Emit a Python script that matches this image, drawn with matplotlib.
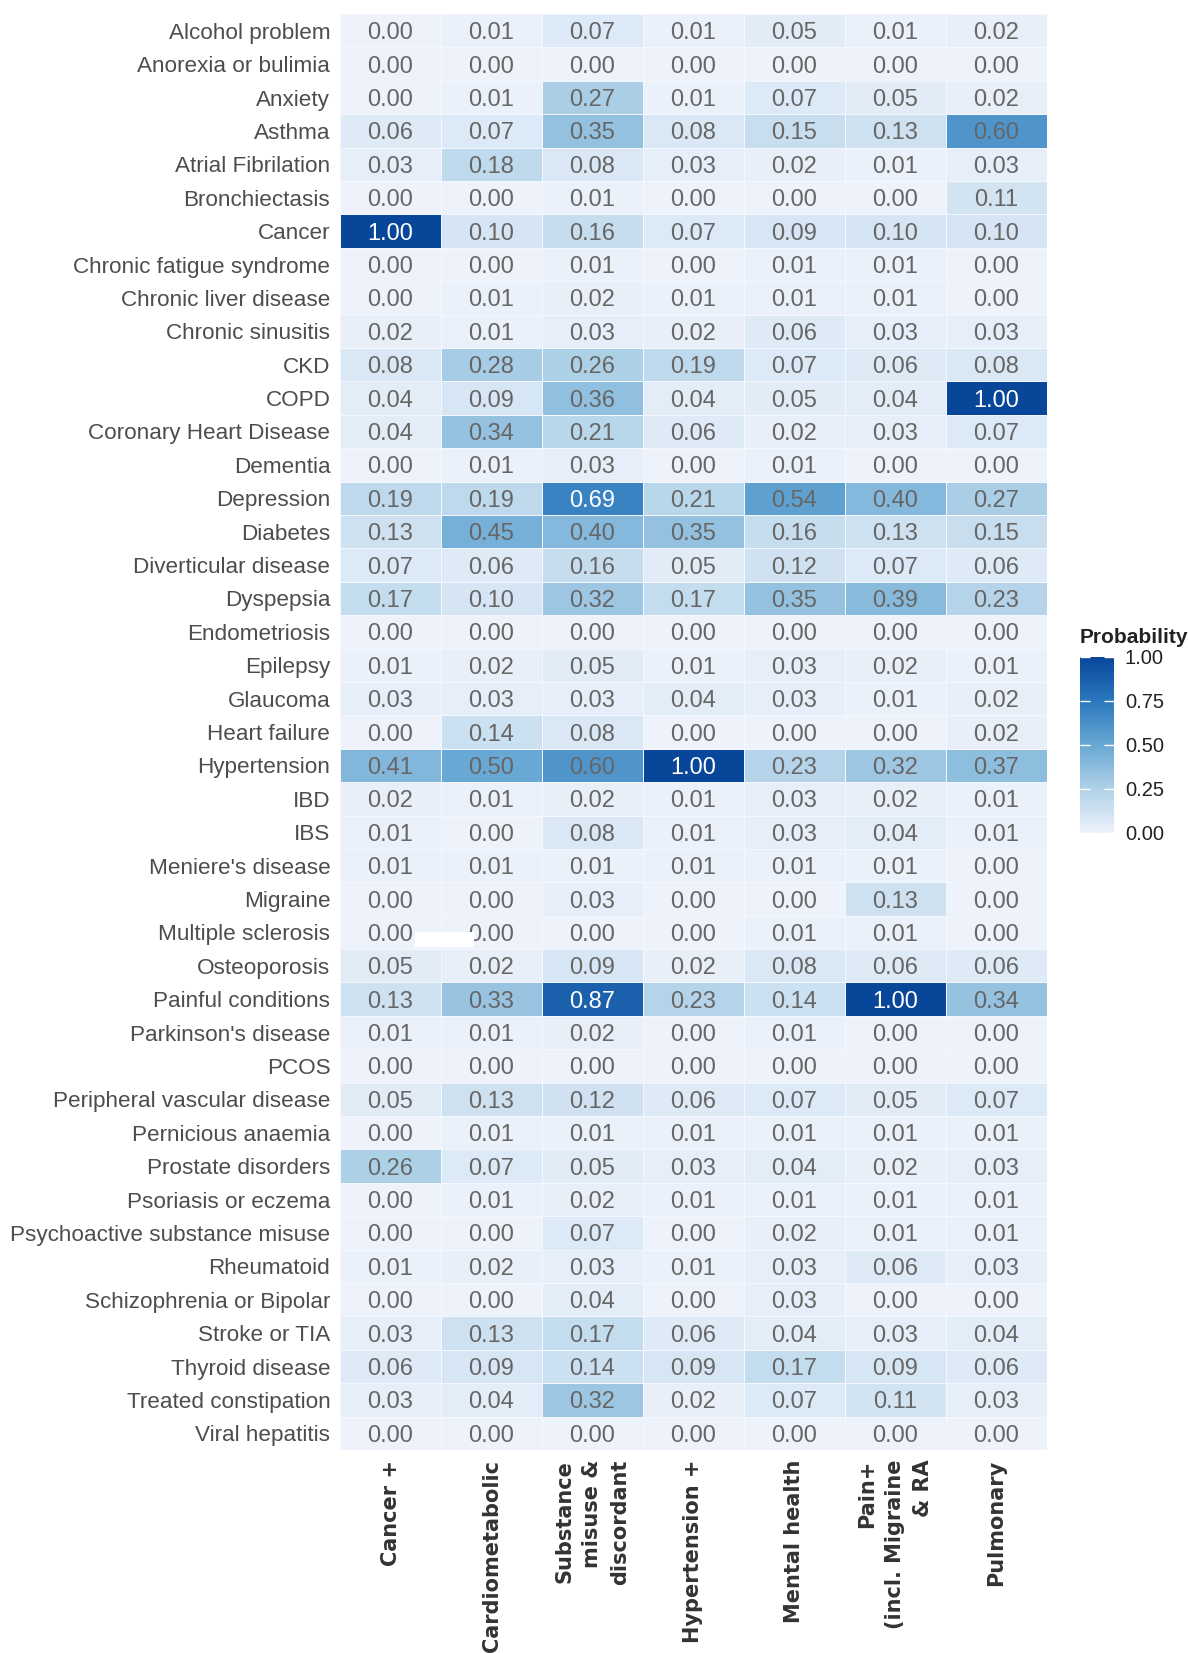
import numpy as np
import matplotlib
matplotlib.use("Agg")
import matplotlib.pyplot as plt
import matplotlib.patches as patches
from matplotlib.colors import LinearSegmentedColormap

conditions = [
    "Alcohol problem", "Anorexia or bulimia", "Anxiety", "Asthma",
    "Atrial Fibrilation", "Bronchiectasis", "Cancer", "Chronic fatigue syndrome",
    "Chronic liver disease", "Chronic sinusitis", "CKD", "COPD",
    "Coronary Heart Disease", "Dementia", "Depression", "Diabetes",
    "Diverticular disease", "Dyspepsia", "Endometriosis", "Epilepsy",
    "Glaucoma", "Heart failure", "Hypertension", "IBD", "IBS",
    "Meniere's disease", "Migraine", "Multiple sclerosis", "Osteoporosis",
    "Painful conditions", "Parkinson's disease", "PCOS",
    "Peripheral vascular disease", "Pernicious anaemia", "Prostate disorders",
    "Psoriasis or eczema", "Psychoactive substance misuse", "Rheumatoid",
    "Schizophrenia or Bipolar", "Stroke or TIA", "Thyroid disease",
    "Treated constipation", "Viral hepatitis",
]

clusters = [
    "Cancer +", "Cardiometabolic", "Substance\nmisuse &\ndiscordant",
    "Hypertension +", "Mental health", "Pain+\n(incl. Migraine\n& RA",
    "Pulmonary",
]

# one list per cluster column, same order as conditions
cancer = [0.00, 0.00, 0.00, 0.06, 0.03, 0.00, 1.00, 0.00, 0.00, 0.02, 0.08, 0.04,
          0.04, 0.00, 0.19, 0.13, 0.07, 0.17, 0.00, 0.01, 0.03, 0.00, 0.41, 0.02,
          0.01, 0.01, 0.00, 0.00, 0.05, 0.13, 0.01, 0.00, 0.05, 0.00, 0.26, 0.00,
          0.00, 0.01, 0.00, 0.03, 0.06, 0.03, 0.00]
cardiometabolic = [0.01, 0.00, 0.01, 0.07, 0.18, 0.00, 0.10, 0.00, 0.01, 0.01, 0.28, 0.09,
                   0.34, 0.01, 0.19, 0.45, 0.06, 0.10, 0.00, 0.02, 0.03, 0.14, 0.50, 0.01,
                   0.00, 0.01, 0.00, 0.00, 0.02, 0.33, 0.01, 0.00, 0.13, 0.01, 0.07, 0.01,
                   0.00, 0.02, 0.00, 0.13, 0.09, 0.04, 0.00]
substance = [0.07, 0.00, 0.27, 0.35, 0.08, 0.01, 0.16, 0.01, 0.02, 0.03, 0.26, 0.36,
             0.21, 0.03, 0.69, 0.40, 0.16, 0.32, 0.00, 0.05, 0.03, 0.08, 0.60, 0.02,
             0.08, 0.01, 0.03, 0.00, 0.09, 0.87, 0.02, 0.00, 0.12, 0.01, 0.05, 0.02,
             0.07, 0.03, 0.04, 0.17, 0.14, 0.32, 0.00]
hypertension = [0.01, 0.00, 0.01, 0.08, 0.03, 0.00, 0.07, 0.00, 0.01, 0.02, 0.19, 0.04,
                0.06, 0.00, 0.21, 0.35, 0.05, 0.17, 0.00, 0.01, 0.04, 0.00, 1.00, 0.01,
                0.01, 0.01, 0.00, 0.00, 0.02, 0.23, 0.00, 0.00, 0.06, 0.01, 0.03, 0.01,
                0.00, 0.01, 0.00, 0.06, 0.09, 0.02, 0.00]
mental = [0.05, 0.00, 0.07, 0.15, 0.02, 0.00, 0.09, 0.01, 0.01, 0.06, 0.07, 0.05,
          0.02, 0.01, 0.54, 0.16, 0.12, 0.35, 0.00, 0.03, 0.03, 0.00, 0.23, 0.03,
          0.03, 0.01, 0.00, 0.01, 0.08, 0.14, 0.01, 0.00, 0.07, 0.01, 0.04, 0.01,
          0.02, 0.03, 0.03, 0.04, 0.17, 0.07, 0.00]
pain = [0.01, 0.00, 0.05, 0.13, 0.01, 0.00, 0.10, 0.01, 0.01, 0.03, 0.06, 0.04,
        0.03, 0.00, 0.40, 0.13, 0.07, 0.39, 0.00, 0.02, 0.01, 0.00, 0.32, 0.02,
        0.04, 0.01, 0.13, 0.01, 0.06, 1.00, 0.00, 0.00, 0.05, 0.01, 0.02, 0.01,
        0.01, 0.06, 0.00, 0.03, 0.09, 0.11, 0.00]
pulmonary = [0.02, 0.00, 0.02, 0.60, 0.03, 0.11, 0.10, 0.00, 0.00, 0.03, 0.08, 1.00,
             0.07, 0.00, 0.27, 0.15, 0.06, 0.23, 0.00, 0.01, 0.02, 0.02, 0.37, 0.01,
             0.01, 0.00, 0.00, 0.00, 0.06, 0.34, 0.00, 0.00, 0.07, 0.01, 0.03, 0.01,
             0.01, 0.03, 0.00, 0.04, 0.06, 0.03, 0.00]

probs = np.array([cancer, cardiometabolic, substance, hypertension,
                  mental, pain, pulmonary]).T

cmap = LinearSegmentedColormap.from_list(
    "prob", ["#EDF2FB", "#AFD1E7", "#68A8D4", "#2A78BD", "#08469A"])

plt.rcParams["font.family"] = ["Liberation Sans", "DejaVu Sans"]

fig = plt.figure(figsize=(11.88, 16.53), dpi=100)
ax = fig.add_axes([0.2862, 0.1228, 0.5951, 0.8687])

n_rows, n_cols = probs.shape
mesh = ax.pcolormesh(np.arange(n_cols + 1), np.arange(n_rows + 1), probs,
                     cmap=cmap, vmin=0, vmax=1,
                     edgecolor="#F4F7FD", linewidth=0.5)
ax.set_xlim(0, n_cols)
ax.set_ylim(n_rows, 0)

for i in range(n_rows):
    for j in range(n_cols):
        v = probs[i, j]
        ax.text(j + 0.5, i + 0.5, f"{v:.2f}", ha="center", va="center_baseline",
                fontsize=17, color="white" if v > 0.65 else "#666666")

ax.set_yticks(np.arange(n_rows) + 0.5)
ax.set_yticklabels(conditions, fontsize=16.2, color="#4D4D4D")
ax.set_xticks(np.arange(n_cols) + 0.5)
ax.set_xticklabels(clusters, rotation=90, ha="center", va="top",
                   multialignment="right", fontsize=15, fontweight="bold",
                   family="DejaVu Sans", color="#333333", linespacing=1.5)
ax.tick_params(length=0, pad=7)
for s in ax.spines.values():
    s.set_visible(False)

# small white blotch present in the source image
ax.add_patch(patches.Rectangle((0.74, 27.48), 0.59, 0.45,
                               facecolor="white", edgecolor="none", zorder=5))

cax = fig.add_axes([0.909, 0.4961, 0.0286, 0.1065])
cb = fig.colorbar(mesh, cax=cax, ticks=[0, 0.25, 0.5, 0.75, 1.0], format="%.2f")
cb.outline.set_visible(False)
cax.tick_params(axis="y", left=True, right=True, direction="in", length=7,
                width=1, color="white", labelsize=14.5, labelcolor="#222222", pad=8)
cax.set_title("Probability", loc="left", fontsize=15, fontweight="bold",
              color="#222222", pad=10)

fig.savefig("out.png", dpi=100)
